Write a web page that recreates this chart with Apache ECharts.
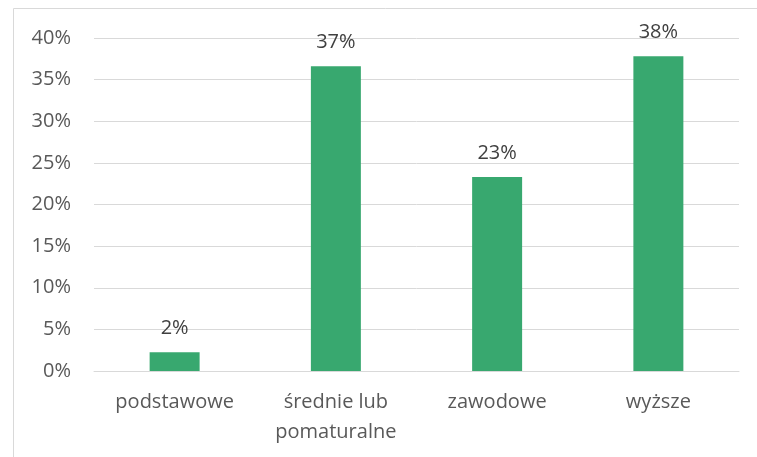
<!DOCTYPE html>
<html>
<head>
<meta charset="utf-8">
<script src="https://cdn.jsdelivr.net/npm/echarts@6/dist/echarts.min.js"></script>
<style>
  html, body { margin: 0; padding: 0; background: #fff; }
  #main { width: 757px; height: 457px; }
</style>
</head>
<body>
<div id="main"></div>
<script>
var categories = ['podstawowe', 'średnie lub\npomaturalne', 'zawodowe', 'wyższe'];
var values = [2.25, 36.6, 23.3, 37.8];
var valueLabels = ['2%', '37%', '23%', '38%'];

var chart = echarts.init(document.getElementById('main'));
chart.setOption({
    animation: false,
    textStyle: { fontFamily: 'Open Sans' },
    graphic: [{
        type: 'rect',
        shape: { x: 13.5, y: 8.5, width: 800, height: 500 },
        style: { fill: null, stroke: '#d9d9d9', lineWidth: 1 },
        silent: true
    }],
    grid: { left: 94, right: 18, top: 38, bottom: 86 },
    xAxis: {
        type: 'category',
        data: categories,
        axisLine: { lineStyle: { color: '#d9d9d9' } },
        axisTick: { show: false },
        axisLabel: { color: '#595959', fontSize: 20, margin: 16, lineHeight: 30, interval: 0 }
    },
    yAxis: {
        type: 'value',
        min: 0,
        max: 40,
        interval: 5,
        axisLine: { show: false },
        axisTick: { show: false },
        axisLabel: { color: '#595959', fontSize: 20, margin: 23, formatter: '{value}%' },
        splitLine: { lineStyle: { color: '#d9d9d9' } }
    },
    series: [{
        type: 'bar',
        data: values,
        barWidth: '31%',
        itemStyle: { color: '#38a86f' },
        label: {
            show: true,
            position: 'top',
            distance: 14,
            color: '#404040',
            fontSize: 20,
            formatter: function (p) { return valueLabels[p.dataIndex]; }
        }
    }]
});
</script>
</body>
</html>
